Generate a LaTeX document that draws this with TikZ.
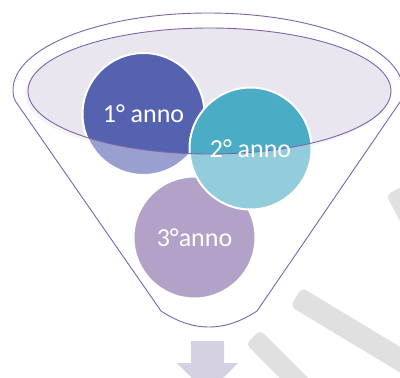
\documentclass[tikz,border=0pt]{standalone}
\usepackage{fontspec}
\setmainfont{Carlito}
\usepackage{tikz}
\usetikzlibrary{calc}

\definecolor{funnelline}{HTML}{7F63A8}
\definecolor{rimfill}{HTML}{EAE6EF}
\definecolor{yearone}{HTML}{5562B0}
\definecolor{yeartwo}{HTML}{4BACC6}
\definecolor{yearthree}{HTML}{8064A2}
\definecolor{arrowfill}{HTML}{D5D1E3}
\definecolor{wmark}{HTML}{E0E0E0}

\newcommand{\funnelbody}{(13,90) arc[start angle=180,end angle=360,x radius=195,y radius=77]
  .. controls (403,95) and (402,99) .. (400,102) -- (257,311)
  .. controls (240,322) and (225,327) .. (209,327)
  .. controls (193,327) and (178,322) .. (161,311) -- (16,102)
  .. controls (14,99) and (13,95) .. (13,90) -- cycle}

\begin{document}
\begin{tikzpicture}[x=1pt,y=-1pt,
  year/.style={circle,draw=white,line width=2pt,minimum size=122pt,inner sep=0pt},
  yeartext/.style={text=white,font=\fontsize{26}{26}\selectfont},
  wstroke/.style={fill=wmark,rounded corners=5pt}]
\useasboundingbox (0,0) rectangle (400,378);

% watermark strokes
\fill[wstroke] (386,195) -- (405.6,184.8) -- (452,270) -- (432,280) -- cycle;
\fill[wstroke] (290.3,306.4) -- (301.7,287.6) -- (472.7,390.6) -- (461.3,409.4) -- cycle;
\fill[wstroke] (245.9,344.1) -- (260.1,329.9) -- (331,401) -- (317,415) -- cycle;

% funnel opening
\fill[black!7] (207,94) ellipse[x radius=182,y radius=63];
\fill[rimfill] (209.5,91) ellipse[x radius=181.5,y radius=63];

% years
\node[year,fill=yearthree] (three) at (194.5,237.5) {};
\node[year,fill=yearone] (one) at (143.5,114) {};
\node[year,fill=yeartwo] (two) at (250.5,148.5) {};

% funnel body, seen through
\fill[white,fill opacity=0.4,even odd rule] \funnelbody
  (209.5,91) ellipse[x radius=181.5,y radius=63];
\draw[funnelline,line width=0.9pt] \funnelbody;
\draw[funnelline,line width=0.9pt] (209.5,91) ellipse[x radius=181.5,y radius=63];

\node[yeartext] at (one) {1° anno};
\node[yeartext] at (two) {2° anno};
\node[yeartext] at (three) {3°anno};

% arrow below
\fill[arrowfill] (191,341) -- (224,341) -- (224,363) -- (238,363) -- (207.5,394)
  -- (177,363) -- (191,363) -- cycle;
\end{tikzpicture}
\end{document}
